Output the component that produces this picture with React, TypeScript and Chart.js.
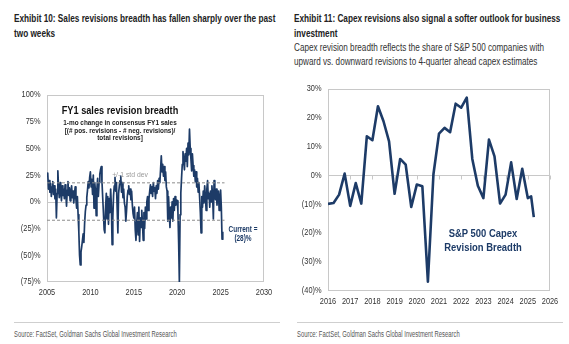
import React, { useEffect, useRef } from 'react';
import { Chart, registerables } from 'chart.js';

Chart.register(...registerables);

const FONT = '"Liberation Sans", Arial, sans-serif';
const NAVY = '#1d3b67';
const FRAME = '#c8c8c8';
const TICK_COLOR = '#333333';
const TICK_SQUEEZE = 0.82;

// ---------- Exhibit 10: FY1 sales revision breadth (monthly, from Jan 2005) ----------
const salesStartYear = 2005;
const salesBreadth = [
  24, 27, 12, 20, 9, 17, 5, 14, 19, 7, 15, 3, // 2005
  12, -15, 8, 29, 13, 4, 18, 9, 1, 15, 6, 12, // 2006
  3, 16, 8, -4, 11, 19, 6, 13, 1, 9, 15, 4, // 2007
  10, -1, 7, 14, 2, -6, 5, -12, -28, -50, -59, -47, // 2008
  -42, -36, -30, -38, -20, -9, -3, 4, 11, 19, 13, 23, // 2009
  28, 14, 21, 7, 25, -6, 18, 10, -13, 12, 22, 5, // 2010
  18, 26, 30, 33, 19, 4, -10, -26, -29, -5, 8, -16, // 2011
  5, -21, 3, -10, 12, -4, -40, -15, 6, 15, 23, 10, // 2012
  18, -6, -29, 8, 15, 20, 24, 9, 18, 4, 12, -1, // 2013
  -5, -18, -8, 5, 11, 15, 7, 12, 2, 10, -3, -11, // 2014
  -15, -5, -26, -36, -20, -10, -31, -5, -37, -15, -24, -8, // 2015
  -20, -36, -10, -25, -5, -16, 0, 5, -8, 3, 10, 16, // 2016
  8, 14, 5, 18, 10, 13, 3, 15, 8, 20, 12, 22, // 2017
  18, 30, 43, 28, 35, 24, 33, 20, 28, 14, 10, -18, // 2018
  5, -10, -24, -5, -15, 0, -18, 3, -8, 5, -3, 2, // 2019
  1, -9, -38, -75, -12, 8, 22, 35, 47, 38, 30, 45, // 2020
  38, 50, 33, 55, 44, 68, 50, 40, 29, 45, 34, 24, // 2021
  30, 19, 28, 14, 22, 9, 18, 4, -10, -29, 5, -5, // 2022
  10, -1, 15, 5, -8, 12, 20, 3, 8, -5, 10, 0, // 2023
  15, 5, -16, 20, 8, 2, 12, -3, 6, 10, -8, 3, // 2024
  11, -5, -35, -28, // 2025
];
const stdDevUpper = 17.8;
const stdDevLower = -17.2;
const stdDevSpan = [2005, 2025.45];
const salesXRange = [2005, 2030];
const salesXStep = 5;
const salesYRange = [-75, 100];
const salesYStep = 25;

// ---------- Exhibit 11: S&P 500 capex revision breadth (quarterly) ----------
const capexDates = [
  2016.0, 2016.25, 2016.5, 2016.75,
  2017.0, 2017.25, 2017.5, 2017.75,
  2018.0, 2018.25, 2018.5, 2018.75,
  2019.0, 2019.25, 2019.5, 2019.75,
  2020.0, 2020.25, 2020.5, 2020.75,
  2021.0, 2021.25, 2021.5, 2021.75,
  2022.0, 2022.25, 2022.5, 2022.75,
  2023.0, 2023.25, 2023.5, 2023.75,
  2024.0, 2024.25, 2024.5, 2024.75,
  2025.0, 2025.15, 2025.27,
];
const capexBreadth = [
  -9.9, -9.6, -6.7, 0.6,
  -10.6, -2.7, -9.8, 13.6,
  12.2, 24.0, 18.8, 11.8,
  -6.4, 5.7, 3.7, -11.0,
  -3.2, -3.8, -36.9, 0.4,
  14.5, 16.5, 15.0, 24.9,
  23.5, 27.0, 5.7, -3.6,
  -7.9, 12.4, 6.6, -9.8,
  -6.7, 4.5, -8.2, 2.3,
  -7.9, -7.3, -14.5,
];
const capexXRange = [2016, 2026];
const capexXStep = 1;
const capexYRange = [-40, 30];
const capexYStep = 10;

const pct = (v: number | string) => {
  const n = Number(v);
  return n < 0 ? `(${Math.abs(n)})%` : `${n}%`;
};

const framePlugin = (zeroTicks: boolean) => ({
  id: 'frame',
  beforeDatasetsDraw(chart: any) {
    const { ctx, chartArea: a, scales } = chart;
    ctx.save();
    ctx.strokeStyle = FRAME;
    ctx.lineWidth = 1;
    const l = Math.round(a.left) + 0.5;
    const t = Math.round(a.top) + 0.5;
    const r = Math.round(a.right) - 0.5;
    const b = Math.round(a.bottom) - 0.5;
    ctx.strokeRect(l, t, r - l, b - t);
    const y0 = Math.round(scales.y.getPixelForValue(0)) + 0.5;
    ctx.beginPath();
    ctx.moveTo(l, y0);
    ctx.lineTo(r, y0);
    if (zeroTicks) {
      scales.x.ticks.forEach((tk: any) => {
        const x = Math.round(scales.x.getPixelForValue(tk.value)) + 0.5;
        ctx.moveTo(x, y0);
        ctx.lineTo(x, y0 + 4);
      });
    }
    ctx.stroke();
    ctx.restore();
  },
});

// Tick labels drawn in a condensed style (horizontally squeezed) like the original
const narrowTicksPlugin = {
  id: 'narrowTicks',
  afterDraw(chart: any) {
    const { ctx, chartArea: a, scales } = chart;
    ctx.save();
    ctx.fillStyle = TICK_COLOR;
    ctx.font = `9px ${FONT}`;
    ctx.textBaseline = 'middle';
    ctx.textAlign = 'center';
    scales.x.ticks.forEach((tk: any) => {
      const x = scales.x.getPixelForValue(tk.value);
      ctx.save();
      ctx.translate(x, a.bottom + 11);
      ctx.scale(TICK_SQUEEZE, 1);
      ctx.fillText(String(tk.value), 0, 0);
      ctx.restore();
    });
    ctx.textAlign = 'right';
    scales.y.ticks.forEach((tk: any) => {
      const y = scales.y.getPixelForValue(tk.value);
      ctx.save();
      ctx.translate(a.left - 6.5, y);
      ctx.scale(TICK_SQUEEZE, 1);
      ctx.fillText(pct(tk.value), 0, 0);
      ctx.restore();
    });
    ctx.restore();
  },
};

function makeOptions(xr: number[], xs: number, yr: number[], ys: number, yWidth: number, xHeight: number, pad: any) {
  return {
    animation: false,
    responsive: false,
    maintainAspectRatio: false,
    layout: { padding: pad },
    plugins: { legend: { display: false }, tooltip: { enabled: false } },
    elements: { point: { radius: 0 }, line: { tension: 0 } },
    scales: {
      x: {
        type: 'linear',
        min: xr[0],
        max: xr[1],
        ticks: { stepSize: xs, display: false, autoSkip: false },
        grid: { display: false, drawTicks: false },
        border: { display: false },
        afterFit: (s: any) => { s.height = xHeight; },
      },
      y: {
        type: 'linear',
        min: yr[0],
        max: yr[1],
        ticks: { stepSize: ys, display: false },
        grid: { display: false, drawTicks: false },
        border: { display: false },
        afterFit: (s: any) => { s.width = yWidth; },
      },
    },
  } as any;
}

function SalesChart() {
  const ref = useRef<HTMLCanvasElement>(null);
  useEffect(() => {
    const pts = salesBreadth.map((v, i) => ({ x: salesStartYear + i / 12, y: v }));
    const up = stdDevSpan.map((x) => ({ x, y: stdDevUpper }));
    const lo = stdDevSpan.map((x) => ({ x, y: stdDevLower }));
    const chart = new Chart(ref.current as HTMLCanvasElement, {
      type: 'line',
      data: {
        datasets: [
          { data: up, borderColor: '#8c8c8c', borderWidth: 1, borderDash: [3, 2], pointRadius: 0 },
          { data: lo, borderColor: '#8c8c8c', borderWidth: 1, borderDash: [3, 2], pointRadius: 0 },
          { data: pts, borderColor: NAVY, borderWidth: 1.7, pointRadius: 0, borderJoinStyle: 'round' },
        ],
      },
      options: makeOptions(salesXRange, salesXStep, salesYRange, salesYStep, 47, 18, { left: 0, right: 12, top: 9, bottom: 0 }),
      plugins: [framePlugin(false), narrowTicksPlugin],
    } as any);
    return () => chart.destroy();
  }, []);
  return <canvas ref={ref} width={276} height={214} style={{ position: 'absolute', left: 0, top: 86, width: 276, height: 214 }} />;
}

function CapexChart() {
  const ref = useRef<HTMLCanvasElement>(null);
  useEffect(() => {
    const pts = capexBreadth.map((v, i) => ({ x: capexDates[i], y: v }));
    const chart = new Chart(ref.current as HTMLCanvasElement, {
      type: 'line',
      data: {
        datasets: [
          { data: pts, borderColor: NAVY, borderWidth: 2.6, pointRadius: 0, borderJoinStyle: 'round' },
        ],
      },
      options: makeOptions(capexXRange, capexXStep, capexYRange, capexYStep, 46, 17.5, { left: 0, right: 19, top: 9, bottom: 0 }),
      plugins: [framePlugin(true), narrowTicksPlugin],
    } as any);
    return () => chart.destroy();
  }, []);
  return <canvas ref={ref} width={287} height={228} style={{ position: 'absolute', left: 282, top: 80, width: 287, height: 228 }} />;
}

type TP = { x: number; y: number; size: number; bold?: boolean; color?: string; center?: boolean; sx?: number; children: React.ReactNode };
function T({ x, y, size, bold, color, center, sx, children }: TP) {
  return (
    <div
      style={{
        position: 'absolute',
        left: x,
        top: y,
        whiteSpace: 'nowrap',
        fontFamily: FONT,
        fontSize: size,
        fontWeight: bold ? 700 : 400,
        color: color || '#222',
        lineHeight: 1,
        transform: `translate(${center ? '-50%' : '0'}, -50%) scaleX(${sx || 1})`,
        transformOrigin: center ? 'center' : 'left',
      }}
    >
      {children}
    </div>
  );
}

export default function App() {
  return (
    <div style={{ position: 'absolute', left: 0, top: 0, width: 569, height: 344, background: '#fff', overflow: 'hidden' }}>
      <T x={14} y={18.5} size={11.5} sx={0.715} bold>Exhibit 10: Sales revisions breadth has fallen sharply over the past</T>
      <T x={14} y={33.5} size={11.5} sx={0.715} bold>two weeks</T>
      <T x={294} y={18.5} size={11.5} sx={0.715} bold>Exhibit 11: Capex revisions also signal a softer outlook for business</T>
      <T x={294} y={33.5} size={11.5} sx={0.715} bold>investment</T>
      <T x={294} y={46.5} size={11} sx={0.74} color="#333">Capex revision breadth reflects the share of S&amp;P 500 companies with</T>
      <T x={294} y={60.5} size={11} sx={0.74} color="#333">upward vs. downward revisions to 4-quarter ahead capex estimates</T>

      <SalesChart />
      <CapexChart />

      <T x={120} y={111} size={11.5} sx={0.8} bold center color="#111">FY1 sales revision breadth</T>
      <T x={120} y={122.7} size={8} sx={0.8} bold center color="#222">1-mo change in consensus FY1 sales</T>
      <T x={120} y={130.6} size={8} sx={0.8} bold center color="#222">[(# pos. revisions - # neg. revisions)/</T>
      <T x={120} y={138.4} size={8} sx={0.8} bold center color="#222">total revisions]</T>
      <T x={130} y={175} size={8} sx={0.85} center color="#999">+/-1 std dev</T>
      <T x={243} y={229} size={8.5} sx={0.76} bold center color={NAVY}>Current =</T>
      <T x={243} y={238.3} size={8.5} sx={0.76} bold center color={NAVY}>(28)%</T>

      <T x={482.7} y={234.3} size={11.5} sx={0.82} bold center color={NAVY}>S&amp;P 500 Capex</T>
      <T x={482.7} y={248.3} size={11.5} sx={0.82} bold center color={NAVY}>Revision Breadth</T>

      <div style={{ position: 'absolute', left: 14, top: 322, width: 266, height: 1, background: '#cfcfcf' }} />
      <div style={{ position: 'absolute', left: 297, top: 322, width: 266, height: 1, background: '#cfcfcf' }} />
      <T x={14} y={333.5} size={8.5} sx={0.69} color="#555">Source: FactSet, Goldman Sachs Global Investment Research</T>
      <T x={297} y={333.5} size={8.5} sx={0.69} color="#555">Source: FactSet, Goldman Sachs Global Investment Research</T>
    </div>
  );
}
